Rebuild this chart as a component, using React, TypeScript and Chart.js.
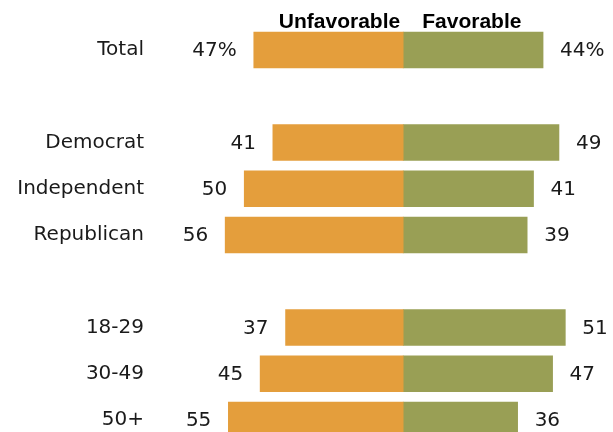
import React, { useEffect, useRef } from "react";
import { Chart, registerables } from "chart.js";

Chart.register(...registerables);

const categories = ["Total", "", "Democrat", "Independent", "Republican", "", "18-29", "30-49", "50+"];
const unfavorable: (number | null)[] = [47, null, 41, 50, 56, null, 37, 45, 55];
const favorable: (number | null)[] = [44, null, 49, 41, 39, null, 51, 47, 36];
const seriesNames = ["Unfavorable", "Favorable"];
const percentRow = "Total";

const ORANGE = "#E49E3C";
const GREEN = "#999F55";
const LABEL_FONT = '20px "DejaVu Sans"';
const HEADER_FONT = 'bold 21px "Liberation Sans"';

const labelPlugin = {
  id: "valueLabels",
  afterDatasetsDraw(chart: any) {
    const ctx = chart.ctx;
    ctx.save();
    ctx.font = LABEL_FONT;
    ctx.fillStyle = "#1a1a1a";
    ctx.textBaseline = "middle";
    chart.data.datasets.forEach((ds: any, di: number) => {
      const meta = chart.getDatasetMeta(di);
      meta.data.forEach((el: any, i: number) => {
        const raw = di === 0 ? unfavorable[i] : favorable[i];
        if (raw == null) return;
        const txt = String(raw) + (categories[i] === percentRow ? "%" : "");
        if (di === 0) {
          ctx.textAlign = "right";
          ctx.fillText(txt, el.x - 17, el.y + 1);
        } else {
          ctx.textAlign = "left";
          ctx.fillText(txt, el.x + 17, el.y + 1);
        }
      });
    });
    // header
    const zero = chart.scales.x.getPixelForValue(0);
    ctx.font = HEADER_FONT;
    ctx.fillStyle = "#000";
    ctx.textBaseline = "alphabetic";
    ctx.textAlign = "right";
    ctx.fillText(seriesNames[0], zero - 3, 28);
    ctx.textAlign = "left";
    ctx.fillText(seriesNames[1], zero + 19, 28);
    ctx.restore();
  },
};

export default function App() {
  const ref = useRef<HTMLCanvasElement | null>(null);
  useEffect(() => {
    if (!ref.current) return;
    const chart = new Chart(ref.current, {
      type: "bar",
      data: {
        labels: categories,
        datasets: [
          {
            label: seriesNames[0],
            data: unfavorable.map((v) => (v == null ? null : -v)),
            backgroundColor: ORANGE,
            barThickness: 36,
            clip: false as any,
          },
          {
            label: seriesNames[1],
            data: favorable,
            backgroundColor: GREEN,
            barThickness: 36,
            clip: false as any,
          },
        ],
      },
      options: {
        indexAxis: "y",
        animation: false,
        responsive: false,
        maintainAspectRatio: false,
        layout: { padding: { top: 50, bottom: 12, left: 0, right: 0 } },
        plugins: { legend: { display: false }, tooltip: { enabled: false }, title: { display: false } },
        scales: {
          x: {
            stacked: true,
            display: false,
            min: -76.5,
            max: 66,
          },
          y: {
            stacked: true,
            offset: false,
            grid: { display: false, drawTicks: false },
            border: { display: false },
            ticks: {
              font: { family: "DejaVu Sans", size: 20 },
              color: "#1a1a1a",
              padding: 16,
              autoSkip: false,
            },
            afterFit(scale: any) {
              scale.width = 160;
              scale.paddingTop = 0;
              scale.paddingBottom = 0;
            },
          },
        },
      },
      plugins: [labelPlugin],
    });
    return () => chart.destroy();
  }, []);
  return (
    <div style={{ position: "fixed", left: 0, top: 0, width: 613, height: 432, background: "#fff" }}>
      <canvas ref={ref} width={613} height={432} style={{ display: "block", width: 613, height: 432 }} />
    </div>
  );
}
